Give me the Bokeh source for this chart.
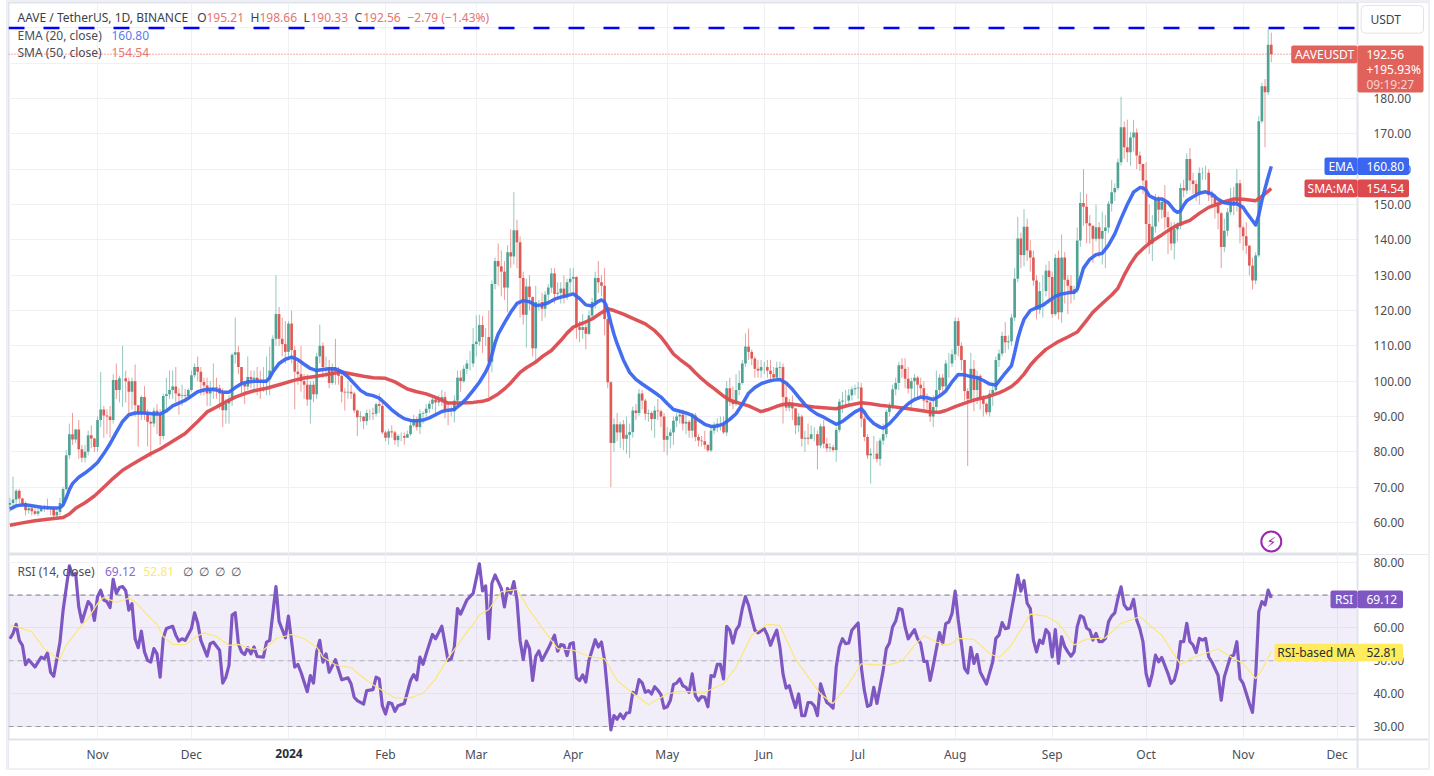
import pandas as pd
from bokeh.embed import file_html
from bokeh.layouts import column
from bokeh.models import (BoxAnnotation, ColumnDataSource, FixedTicker, Label,
                          LinearAxis, NumeralTickFormatter, Range1d)
from bokeh.plotting import figure
from bokeh.resources import INLINE

start_date = "2023-10-04"

closes = [
    65.5,66.5,69,66.8,65.5,63.5,64,63.2,62.5,63.2,
    64,63.8,64.2,64,62,63,65.5,69.5,79,85,
    83.5,86.3,80.7,78.3,80,84.7,83.8,81.4,89,92,
    90.3,90,89,100.3,97.5,100.8,100.8,100,97,100,
    93.2,90.8,95.5,91,88.5,88,91.6,90.5,84.5,95.8,
    96.3,97.5,98.5,96.5,95.8,96,95.8,97.5,101.7,104,
    102.7,99.8,98.8,96.5,98,98.3,98,96.5,91.8,93.7,
    95,107.5,108.2,104,99.3,98.5,101.2,100.5,101,100.2,
    99.5,100,100.5,103,112,119,112,110.5,108.3,116.3,
    108.8,102.7,102,100,99,94.8,99,96.3,107,110,
    104,104,99.5,103.5,102.7,101.5,97,96.8,97,96.5,
    91.7,89.8,90,88.7,91,91,90.8,93.5,93,85.5,
    84,85.8,85.5,83.3,84.5,84.5,84,85,87.5,88.8,
    87,90.8,91,92.2,93.6,94.8,94,94.5,95.5,91.7,
    91.5,91.5,94.5,101,100,103.5,105,105,110.5,111.2,
    115.9,112.5,112.5,105.5,127.5,134,132.5,131,126.5,136.5,
    135.3,142.7,139.3,129.2,118.8,126.8,123.8,109.3,122.4,122.4,
    120.5,124.5,126.5,130.5,124.7,125,126.2,123.8,128,129,
    129.5,115.3,114.5,115.3,113.4,118.6,122.4,129.2,128,127,
    117.6,99.7,82.5,87.8,85.5,87.8,83.7,84.8,85.6,91.7,
    91,96.5,94.5,90.8,91,89.3,91.7,91.5,90,83.4,
    84.5,85.5,88.8,90,90.5,88,88.5,86,90.3,84.2,
    83.2,83,82,80.4,86,87.5,88,88,85.5,98,
    94.5,93.5,97.5,99.5,105,109.8,108.3,106.4,103.5,103,
    104,104,103,102,101,103.8,104,95.5,92.5,93.8,
    92.3,87.5,90,83.7,84,83.7,85,85,81.8,87.2,
    82.3,81,81.3,80.5,86.2,94.2,94.5,94.5,96,97.7,
    98,98.2,89.4,84.2,79,79.5,79.5,78,83.2,85,
    91.3,93.2,97.7,99.5,104.5,103.5,100.7,97.9,100,101,
    99,98,94.5,94,90,92.7,97.5,101,98.5,105,
    105,107.6,117,110,106,97.2,95,103.5,97.5,101.5,
    95,93.6,91.2,96.5,97.5,106,107.8,112.8,111,111.3,
    118,129,140.4,135.7,143.7,137,135,128.5,120.2,125.5,
    125.5,131.3,129.5,119,134.9,119.5,135,128.7,127,124.7,
    126,139.8,150.4,149.4,144.7,144,140.3,143.6,140.3,142.5,
    143.5,150.2,153.5,154.7,162,171.9,166.2,164.8,169,170.4,
    163.9,161.5,156.8,144.5,138.9,143.8,151.3,148.5,150.7,146.4,
    143.6,139,143,144,154.7,154,162.9,156.8,155.8,153,
    158.9,159,159,152.6,152,150.2,147.5,138,142.6,147.8,
    151,149.7,156,143.5,141,138.3,132.7,128.5,135.6,173.6,
    183.5,181.8,195.21,192.56,
]
highs = [
    67,73,69.5,69.5,67,66,65,65,64,64,
    65,65,66.8,64.5,64.5,64,67,70,80.5,88,
    91,86.5,89,82,82,86,87.5,84,90,102.6,
    93,92,93,102,105,101.5,110,103,101,101,
    104.7,93,96,98.6,92,90,92.5,93.5,92,96.5,
    101,103,103,104,98,99,97.8,98,103,105,
    107,104,101,101,100,105,101,99,98,95,
    96,108,118,110,104,100,107,103,103,104,
    103,104,107,109.8,113,130,121,118,117,117,
    120,110,106,110,102,102,100,100,108,116,
    111,107,106,105,112,104,102,98,100,99,
    97,92,91.5,90,92,92,92.5,94,96.5,94,
    86,86.5,87.5,86,85,85.5,85.5,86,89,90.5,
    90,92,91.5,93.5,94.5,96,95.5,96,97.5,97,
    94,93,96,103,103,104.5,106,108.5,115,118.6,
    118.8,118.5,115,120,128.5,135,139,137,134,138.5,
    143,153.5,145.7,141,131,129,130,124,127,123,
    125,125.5,127.5,132,132,128,128,130,129,132,
    132,129.7,117,119,117,120,123.5,131,134,130,
    132,122,100,89.5,91,88.5,89,90,88,92.8,
    93.5,97.8,97.5,95,92,91.5,93,95,92,91,
    87,86.5,90,91,92,92,90.5,89,91,91,
    85,84.5,86,81.5,87,88.5,89.5,90,90,100,
    101,98.5,102,103,106,113.5,114.9,109,107,106,
    106,105.5,106,106,104,105.5,105.5,105,99,95,
    96,92,91,90.5,86,88,87.5,87,86,88,
    89,84,82.5,82,87,95,97,97.5,97.8,98.5,
    99,99.8,99.5,90,85,81,84.5,83,84,88,
    92,94,99,101,105.5,106.5,106.5,104,101,102,
    101.5,101,100,96.5,95,96,103,102,102,106,
    108,109,118,118,111,105,98,108,106,103,
    102,96,94,97.5,99,107,109,114,116.7,113,
    119,132,146.5,142,148.7,146,140,137,130,128,
    130,133,134,131,136,137,141.5,136.5,130,130,
    127,143.5,153.5,160,153,147,144,150,145,148,
    147,151,157,156,163,180.5,173.5,174,170.5,174,
    171.5,165,160.5,162,150,147,153,152.5,151.5,155.5,
    148,145,145,145,156,157,164.5,166,159,157,
    160.5,160.5,161,160,154,153,151,148,146,149,
    154.7,155,160,157,144,145,138.5,135,136.5,175,
    184.5,185.5,199.7,198.66,
]
lows = [
    63,64,65,65.5,64.5,62,62.5,62,62,61.8,
    63,63,63.5,62,61,61.5,62,64.5,69,78,
    82,82.5,78,77,77,79,81,80,80,87,
    84,85,84,88,95,94,92.7,94,91,92,
    90,81.5,89,89,81.5,78.4,87,85,82,83.5,
    92,95,95,94,90.5,93,94,95,97,101,
    100,96,96,93,93,95,95,92,87,88,
    88,93,105,102,96,93.5,97.5,98,97,96,
    95,97,96,96,102,110,110,107,105,106,
    105,92,99,97,95,93,88,94,95,105,
    101,101,98,99,99,99,94,91.7,95,95,
    91,84.5,88.5,86.5,87.5,89,89,90,91,85,
    83,82,84,82,81.4,83,82,84,84.5,87,
    86,85,88,90,91,92,90,93,93,89.5,
    87.5,90,88.3,93,97,99.5,102,103,104,107,
    110,108,110,95.5,102.5,126,127,124,123,119.5,
    132,133,132,118,116,109.5,120,107,105,120,
    117,118,122,125,122,123,122,122,123,125,
    125,112,111,112,109,113,117.5,120.5,125,124,
    113,98,70,80,83,81,80.5,79.5,78.3,84,
    89,90.2,92,89,88.5,86,84,89,87,80,
    79,81,82,87,88,86,85,84,84,83,
    81.5,81.5,80.8,80,80,85,85.5,86,85,84.5,
    93,92,93,96,99,104,106,104.5,101,101,
    101,102,101,100,100,100.5,101,88,91.5,91.5,
    89,85,85.5,81.5,80,82,83.5,83,75,81,
    81,80,80,80,77.2,85.5,91,93,93,94.5,
    96,95,87,83,78,71,78,77,76,82,
    84,90,92,96,97.5,101,98,96.5,92.5,95,
    95,95,92,92,88.5,87,91,96,97,97.5,
    101,104,106,107,103,94.5,76,94,91.5,93.5,
    92,90,90.5,90,93,97,104,107,108,109,
    110,117,128,132,132.5,134,131,127,117.5,119,
    118,124,122,118,118.5,117.5,116.5,122,119,122,
    123,125,138,144,139,139,133.5,139.5,135,133,
    132,142,148,151,154,161,163,162,161,165,
    160,159.5,153,139,136,134,142,145,146,143,
    136,137,134.5,139.5,143,152,153,154,153,151,
    150,157,157,151,149,146,143,132,136.5,141,
    147,147,148,139,137,136,130,126,127.5,135,
    173,166.2,181,190.33,
]

ema_days = [0,2,4,6,8,10,12,14,16,17,18,19,20,22,24,26,28,30,32,34,36,38,40,42,44,46,48,50,52,54,56,58,60,62,64,66,68,70,72,74,76,78,80,82,83,84,86,88,90,92,94,96,98,100,102,104,
            106,108,110,112,114,116,118,120,122,124,126,128,130,132,134,136,138,140,142,144,146,148,150,152,153,154,155,156,158,160,162,164,166,168,170,172,174,176,178,180,182,184,186,188,189,190,191,192,193,194,196,198,200,202,204,206,208,210,212,
            214,216,218,220,222,224,226,228,230,232,234,236,238,240,242,244,246,248,250,252,254,256,258,260,262,264,266,268,270,272,273,274,276,278,279,281,283,285,287,289,291,293,295,297,299,301,303,305,307,309,311,313,315,
            316,318,320,321,322,323,324,326,328,330,332,334,336,338,340,341,342,343,345,347,349,351,353,355,357,359,361,362,363,364,366,368,370,372,373,374,375,376,378,380,382,384,386,388,390,392,394,395,397,398,399,400,401,402,403]
ema_vals = [63.8,64.7,65,64.9,64.6,64.3,64.2,64.1,64.2,65,67,69.3,71,72.8,74,75.4,77,79.5,82.3,85.5,88.6,90.5,91,91,90.9,90.7,90.7,91.6,93,93.8,94.6,95.8,97,97.5,97.7,97.5,96.9,96.9,98.2,99.3,99.8,100,100,100,101,102.6,105,106.2,106.8,106.1,104.8,103.6,103,103.3,103.5,103.5,
            102.7,101.2,99.3,97.4,96.3,95.9,95.2,93.6,91.9,90.5,89.4,88.9,88.8,89,89.6,90.5,91.4,91.8,92,93.4,95.2,97.4,99.7,102.6,104.5,107.5,110.8,113.3,116.5,119.5,122,122.8,122.5,121.4,121.6,122.2,123.2,123.8,124.2,124.7,123.4,121.6,121.3,122.6,123,122.4,120,116.5,113.3,110.6,106,102.5,100.5,99.2,98,96.8,95.5,93.7,92,
            91.5,91,90.3,89,87.8,87.2,87.3,87.9,89.2,90.8,93.5,96.6,98.2,99.3,99.9,100.3,100.5,99.5,97.7,95.5,93.4,91.8,90.6,89.8,88.8,87.8,88.6,90,91.3,92.2,91.2,89.8,88,87,86.7,88,89.9,92,93.6,94.8,95.5,95.3,94.8,95.8,97.2,99.8,101.9,101.8,101.3,101,100.2,99.2,98.9,
            100,102.3,104.4,108,112,115,117.5,120,120.8,121.5,122.8,124,124.7,125,125.2,126,129,132,134.5,135.8,136.2,138.5,141.7,146,150,153.5,154.8,154.7,154,152.5,151.6,151.6,150.6,148.4,147.8,148.2,149.8,151.1,152.2,153.2,153.6,153,151.5,150.5,150.2,150.2,149.2,147.8,145.4,144.2,147,151.2,154.5,157.8,160.8]

sma_days = [0,4,8,12,17,19,21,24,27,30,33,36,39,42,45,48,52,56,60,63,66,68,72,75,78,82,86,91,94,98,102,106,110,113,116,120,123,127,130,133,136,140,144,148,151,153,156,158,160,163,165,168,170,173,176,178,180,183,186,189,191,193,196,199,203,206,208,210,212,214,217,219,221,223,225,228,230,233,236,238,240,242,245,247,249,253,257,261,264,268,272,275,278,282,287,291,294,297,299,302,306,309,312,316,318,320,322,324,326,328,331,335,338,341,344,346,349,352,354,356,358,360,362,365,368,370,373,377,380,383,387,391,394,398,400,403]
sma_vals = [59.2,59.9,60.5,60.9,61.4,62.4,64,65.6,67.5,70,72.5,74.8,76.4,78,79.5,80.8,83,85.2,88.6,91.3,92.7,93.7,95.5,96.5,97.3,98,99,100.3,100.9,101.4,102,102.6,101.9,101.4,101,100.8,99.8,97.8,97,96.4,95.4,93.8,93.8,94,94.3,94.8,96.4,97.8,99.5,102.5,103.8,105.4,106.9,108.7,111.5,113.6,115.3,116.4,117.6,119.4,120.5,120,119,117.8,116.2,114.3,112.5,110.2,107.7,106.2,104.2,102.4,100.7,99.2,97.9,95.8,94.6,93.8,93,92.2,91.4,91.9,92.9,93.4,93.6,93.1,92.7,92.4,92.2,93.2,93.9,93.6,93.2,92.8,92.2,91.7,91.3,91.2,91.7,92.8,94.1,94.9,95.5,96.7,97.5,98.5,100,102,104.5,106.5,109,111.2,112.5,113.9,117.2,119.5,122,124.4,126.3,130,133.2,135.8,137.5,139.7,141.4,142.6,144.2,145.5,147.5,149.2,150.5,151.6,151.5,151.1,152.3,154.54]

rsi_days = [0,1,2,3,4,5,6,8,10,11,12,13,14,16,17,19,20,21,22,23,25,26,27,28,29,30,31,32,33,34,35,36,37,38,39,40,41,42,43,44,45,46,47,48,49,50,52,53,54,55,56,58,59,60,61,63,64,65,67,68,69,70,71,72,73,74,75,76,77,78,79,81,82,83,85,86,88,89,91,92,93,95,96,97,98,99,100,101,102,104,106,108,109,110,111,113,114,116,117,118,119,120,121,122,123,124,126,128,129,130,131,132,133,135,136,138,140,141,142,143,144,146,147,148,
            *range(150,171),172,*range(174,186),*range(187,240),*range(241,270),*range(271,278),*range(279,288),*range(289,296),*range(297,302),
            *range(302,311),312,*range(314,369),*range(370,385),*range(386,389),*range(390,404)]
rsi_vals = [56.7,58.3,61.1,56.2,54.7,48.8,50.3,48.1,51.1,50.6,52.4,46.5,45.3,55.7,65.4,78.9,76.1,76.6,66.4,61.8,68,66.9,62.3,69.5,71.5,68.5,68,66.2,74.8,70.5,72.3,72.6,71.3,65.4,67.4,56.7,54,59,52.7,50.1,49.6,53.7,52.1,45,57,59.8,60.5,57.8,56,56.7,56.2,59.8,64.6,61.5,56.2,51.4,55.2,55.7,53.2,43.2,45,48.6,63.9,64.6,55.2,52.7,51.9,54,52.1,54.2,51.3,51.1,55.7,56.2,72.6,62,57,63.6,48.1,48.9,46.5,40.6,45.5,43.2,52.7,56.2,49.6,52.1,46.5,50.3,44.2,44.8,43,38.9,37.9,36.8,40.9,41.2,45,44.5,36.3,33.8,37.3,37,34.6,36.3,37,44,45.8,44.2,51.1,48.9,52.1,58,56.7,60.5,50.1,50.6,54.2,65.9,64.2,68.5,69.5,70.5,
            79.5,71.3,72.8,56.7,73.6,76.1,74.1,72,66.4,72,70.5,74.1,68.5,56.2,50.4,56,53.7,44,51.3,53,50.1,53.7,57.8,52.9,54.9,54.7,51.6,55.2,55.5,44.8,44,45.7,43.5,50.1,56.4,54.2,55.7,50.1,39.9,29,33.3,32.2,33.8,32.4,34.1,34.3,40.4,39.9,44.3,43.3,40.4,40.9,39.9,42.1,41.1,39.7,35.6,36,37.9,42.8,43.2,44.5,42.4,41.9,40.4,46,39.4,37.9,39.1,38.9,36,45.5,45.2,48.9,48.9,44.5,60.5,59.3,55.4,59.3,60.8,65.9,69.5,66.9,62.9,59.3,58.5,59.8,57.8,54.7,57.2,59.3,54.2,46,41.7,42.4,38.9,35.8,39.9,33.3,33.3,37.3,37.3,36.3,33.3,43,39.9,37.3,36.6,35.6,48.1,54.2,56.7,55.2,55.4,59.3,61.5,48.1,40.9,36.1,36.6,41.9,37,47,53.7,55.4,60.3,62.1,65.9,65.6,60.3,56.7,59.5,56.7,55.2,49.8,49.8,44,48.6,58.6,55.2,61.3,61.8,64.4,
            71.2,62.4,55.3,47.7,46.3,54.1,49.2,51.9,46.6,42.9,49.7,56.8,57.8,61.6,59.8,60,65.4,70.5,76.1,71.2,74.4,67.5,65.9,56.3,52.7,56.3,55.3,59.5,58.3,51.2,59.5,49.2,57.3,54.3,52.7,51.4,52.7,60.4,63.7,63.2,60,59.3,56.3,58.3,55.8,55.8,56.8,61.9,63.6,64.6,69,72.5,67,65.7,65.9,68.7,62.4,59.8,55.8,46.1,42.4,46.1,51.7,49.7,51,46.1,43.1,44.1,47.7,55.8,55.8,61.4,55.8,54.8,52.5,56.8,56.3,56.8,51.2,49.7,45.6,38,45.1,51.4,51.7,55.8,44.6,43.1,40.1,37,34.3,45.1,64.9,68,67,71.5,69.12]

rsima_days = [0,3,7,11,15,16,18,22,25,28,30,34,38,40,44,47,49,52,56,60,62,66,70,73,77,81,85,90,94,98,100,104,109,112,116,120,123,128,132,136,140,143,146,
              147,150,153,157,162,166,171,175,180,185,190,194,198,204,210,214,222,228,232,237,242,246,251,259,263,268,272,275,280,285,289,292,296,299,
              301,303,308,313,316,320,326,331,335,340,344,350,355,361,368,374,378,386,391,394,398,400,403]
rsima_vals = [60.8,60.1,58.8,53.7,50.9,50.6,54.7,59.8,62.9,67.4,69.3,67.8,69,68,63.9,61.1,57.4,55,54.9,57.6,58.5,57.4,54.7,55,53.7,53.2,56.7,58,56.7,54.2,51.1,48.8,47.9,45.5,42.7,40.4,38.7,38.7,40.1,44.5,50.9,54.7,58.8,
              59.8,63.9,65.6,71,71.7,65.4,58.8,53.7,53.2,51.3,50.6,44,40.9,36.6,39.9,40.7,40.4,43,48.1,57.8,61.1,60.8,50.4,39.9,37,43,49.1,48.9,48.6,49.9,54.7,57.6,55.7,54.7,
              55.3,56.8,56.5,52.2,50.9,54.8,64.2,63.6,61.4,54.8,56.6,57,61.4,63.4,57.8,48.9,51,53.6,50.7,49.2,44.6,47.2,52.81]

month_starts = ["2023-11-01","2023-12-01","2024-01-01","2024-02-01","2024-03-01","2024-04-01","2024-05-01",
                "2024-06-01","2024-07-01","2024-08-01","2024-09-01","2024-10-01","2024-11-01","2024-12-01"]
month_labels = ["Nov","Dec","","Feb","Mar","Apr","May","Jun","Jul","Aug","Sep","Oct","Nov","Dec"]
price_ticks = [60,70,80,90,100,110,120,130,140,150,160,170,180]
price_grid = price_ticks + [190,200]
rsi_ticks = [30,40,50,60,80]
rsi_grid = [30,40,50,60,70,80]

assert len(closes) == len(highs) == len(lows) == 404, (len(closes), len(highs), len(lows))
assert len(ema_days) == len(ema_vals), (len(ema_days), len(ema_vals))
assert len(sma_days) == len(sma_vals), (len(sma_days), len(sma_vals))
assert len(rsi_days) == len(rsi_vals), (len(rsi_days), len(rsi_vals))
assert len(rsima_days) == len(rsima_vals), (len(rsima_days), len(rsima_vals))

FONT = "Noto Sans"
GRID = "#f0f1f5"
BORDER = "#e0e3eb"
TXT = "#4a4d57"
UP = "#4fa394"
DOWN = "#e05a55"
BLUE = "#3a66f0"
RED = "#dc4a4f"
PURPLE = "#7e57c2"
AXIS_X = 1357

# pixel helpers used only for placing annotations
PX_PER_DAY = 3.13
def X(px):
    return (px - 9.4) / PX_PER_DAY
def Y1(py):
    return 60 + (522 - py) / 3.533
def Y2(py):
    return 30 + (726 - py) / 3.286

t0 = pd.Timestamp(start_date)
days = list(range(len(closes)))
opens = [65.0] + closes[:-1]
tick_days = [(pd.Timestamp(m) - t0).days for m in month_starts]
colors = [UP if c >= o else DOWN for o, c in zip(opens, closes)]
src = ColumnDataSource(dict(x=days, o=opens, c=closes,
                            h=[max(h, o, c) for h, o, c in zip(highs, opens, closes)],
                            l=[min(l, o, c) for l, o, c in zip(lows, opens, closes)],
                            color=colors))

x_range = Range1d(X(8), X(1428))

def base(height, y_range, ticks, grid):
    f = figure(width=1420, height=height, x_range=x_range, y_range=y_range,
               output_backend="svg", toolbar_location=None, tools="",
               min_border_left=0, min_border_right=0, min_border_top=0,
               min_border_bottom=0, background_fill_color="white",
               border_fill_color="white", outline_line_color=BORDER, outline_line_width=2)
    f.yaxis.visible = False
    f.ygrid.ticker = FixedTicker(ticks=grid)
    f.xgrid.ticker = FixedTicker(ticks=tick_days)
    f.xgrid.grid_line_color = GRID
    f.ygrid.grid_line_color = GRID
    ax = LinearAxis(ticker=FixedTicker(ticks=ticks), formatter=NumeralTickFormatter(format="0.00"),
                    fixed_location=X(AXIS_X),
                    major_tick_line_color=None, minor_tick_line_color=None,
                    axis_line_color=BORDER, axis_line_width=2, major_label_standoff=10,
                    major_label_text_font=FONT, major_label_text_font_size="12px",
                    major_label_text_color=TXT)
    f.add_layout(ax, "right")
    # white price-scale strip hides the grid right of the scale line
    f.add_layout(BoxAnnotation(left=X(AXIS_X), fill_color="white", fill_alpha=1, line_alpha=0, level="underlay"))
    return f

def text(f, yf, px, py, s, color=TXT, size=12, style="normal", align="left", font=FONT):
    f.add_layout(Label(x=X(px), y=yf(py), text=s, text_color=color, text_font=font,
                       text_font_size=f"{size}px", text_font_style=style, text_align=align,
                       text_baseline="middle", level="annotation"))

def box(f, yf, l, r, t, b, color, line=None, radius=2):
    f.add_layout(BoxAnnotation(left=X(l), right=X(r), top=yf(t), bottom=yf(b), fill_color=color,
                               fill_alpha=1, line_color=line, line_alpha=1 if line else 0,
                               border_radius=radius, level="annotation"))

# ---------- price pane ----------
p = base(552, Range1d(Y1(554), Y1(2)), price_ticks, price_grid)
p.xaxis.visible = False
p.segment("x", "h", "x", "l", source=src, color="color", line_width=1, line_alpha=0.6)
p.vbar("x", 0.85, "o", "c", source=src, fill_color="color", line_color=None)
p.line(sma_days, sma_vals, line_color=RED, line_width=3.5, line_alpha=0.95, line_join="round")
p.line(ema_days, ema_vals, line_color=BLUE, line_width=3.5, line_alpha=0.95, line_join="round")
p.line([X(8), X(AXIS_X)], [200, 200], line_color="#0000ff", line_width=2.5, line_dash="16 19")
p.line([X(8), X(1291)], [closes[-1], closes[-1]], line_color=DOWN, line_width=1, line_dash="1 2")

text(p, Y1, 17, 16.7, "AAVE / TetherUS, 1D, BINANCE", "#3b3f4a")
VAL = "#e57570"
for px, s, c in [(196.7, "O", "#3b3f4a"), (206, "195.21", VAL), (250, "H", "#3b3f4a"), (259, "198.66", VAL),
                 (303, "L", "#3b3f4a"), (310, "190.33", VAL), (354, "C", "#3b3f4a"), (362.7, "192.56", VAL),
                 (407, "\u22122.79 (\u22121.43%)", VAL)]:
    text(p, Y1, px, 16.7, s, c)
text(p, Y1, 17, 34.5, "EMA (20, close)", "#4a4d57")
text(p, Y1, 111, 34.5, "160.80", "#5b7cf0")
text(p, Y1, 17, 52, "SMA (50, close)", "#4a4d57")
text(p, Y1, 111, 52, "154.54", VAL)

box(p, Y1, 1360.7, 1423, 5, 32.7, "white", BORDER, 4)
text(p, Y1, 1370, 19, "USDT", "#3b3f4a")
box(p, Y1, 1290.7, 1357, 45, 62.7, "#e0625b")
text(p, Y1, 1324, 54, "AAVEUSDT", "white", align="center")
box(p, Y1, 1357, 1423, 45, 92, "#e0625b")
text(p, Y1, 1366, 54, "192.56", "white")
text(p, Y1, 1366, 69, "+195.93%", "white")
text(p, Y1, 1366, 83.5, "09:19:27", "#f6d3d1")
box(p, Y1, 1324, 1357, 157, 174.5, BLUE)
box(p, Y1, 1357, 1408.5, 157, 174.5, BLUE)
text(p, Y1, 1340.5, 166, "EMA", "white", align="center")
text(p, Y1, 1366, 166, "160.80", "white")
box(p, Y1, 1304, 1357, 179, 196.7, RED)
box(p, Y1, 1357, 1408.5, 179, 196.7, RED)
text(p, Y1, 1330.5, 188, "SMA:MA", "white", align="center")
text(p, Y1, 1366, 188, "154.54", "white")

p.scatter([days[-1]], [Y1(541)], size=20, marker="circle", fill_color="white",
          line_color="#9c27b0", line_width=2)
text(p, Y1, 1271, 541, "\u26a1", "#9c27b0", size=14, align="center", font="DejaVu Sans")

# ---------- RSI pane ----------
r = base(214, Range1d(Y2(768), Y2(554)), rsi_ticks, rsi_grid)
r.xaxis.ticker = FixedTicker(ticks=tick_days)
r.xaxis.fixed_location = Y2(739)
r.xaxis.major_label_overrides = {d: s for d, s in zip(tick_days, month_labels)}
r.xaxis.major_tick_line_color = None
r.xaxis.minor_tick_line_color = None
r.xaxis.axis_line_color = BORDER
r.xaxis.axis_line_width = 2
r.xaxis.major_label_standoff = 0
r.xaxis.major_label_text_font = FONT
r.xaxis.major_label_text_font_size = "12px"
r.xaxis.major_label_text_color = TXT

r.add_layout(BoxAnnotation(top=Y2(739), fill_color="white", fill_alpha=1, line_alpha=0, level="underlay"))
r.add_layout(BoxAnnotation(bottom=30, top=70, right=X(AXIS_X), fill_color=PURPLE, fill_alpha=0.1, line_alpha=0, level="underlay"))
for lvl, col in ((70, "#787b86"), (50, "#b0b2ba"), (30, "#989aa3")):
    r.line([X(8), X(AXIS_X)], [lvl, lvl], line_color=col, line_width=1, line_dash="5 4")
r.line(rsi_days, rsi_vals, line_color=PURPLE, line_width=3.2, line_join="round")
r.line(rsima_days, rsima_vals, line_color="#fbe878", line_width=1.2, line_join="round")

text(r, Y2, 17, 570.7, "RSI (14, close)", "#4a4d57")
text(r, Y2, 104.5, 570.7, "69.12", "#8a6ad0")
text(r, Y2, 143, 570.7, "52.81", "#fde96a")
for px in (182, 198, 214, 230):
    text(r, Y2, px, 570.7, "\u2205", "#4a4d57")

box(r, Y2, 1330, 1357, 590, 607.7, PURPLE)
box(r, Y2, 1357, 1402.5, 590, 607.7, PURPLE)
text(r, Y2, 1343.5, 599, "RSI", "white", align="center")
text(r, Y2, 1366, 599, "69.12", "white")
box(r, Y2, 1274, 1357, 643.3, 660.7, "#ffeb5b")
box(r, Y2, 1357, 1402.5, 643.3, 660.7, "#ffeb5b")
text(r, Y2, 1315.5, 652, "RSI-based MA", "#2a2e39", align="center")
text(r, Y2, 1366, 652, "52.81", "#2a2e39")
text(r, Y2, 288.5, 753, "2024", "#2a2e39", style="bold", align="center")

layout = column(p, r, spacing=0, styles={"margin-left": "8px", "margin-top": "2px",
                                         "outline": "2px solid #eef0f5"})
open("out.html", "w").write(file_html(layout, INLINE))
